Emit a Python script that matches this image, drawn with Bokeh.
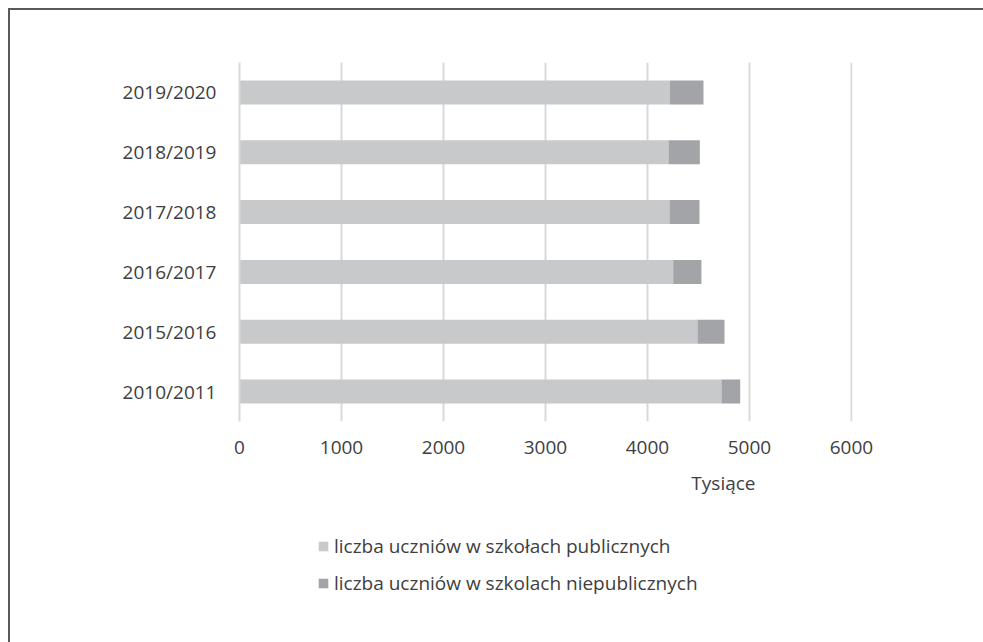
from bokeh.plotting import figure
from bokeh.layouts import column
from bokeh.models import (FactorRange, Range1d, FixedTicker, Legend, LegendItem,
                          Title, ColumnDataSource)
from bokeh.embed import file_html
from bokeh.resources import INLINE

# ---- data (thousands of pupils) ----
years = ["2010/2011", "2015/2016", "2016/2017", "2017/2018", "2018/2019", "2019/2020"]
public = [4725, 4490, 4252, 4216, 4206, 4219]
nonpublic = [184, 265, 277, 294, 307, 330]
x_ticks = [0, 1000, 2000, 3000, 4000, 5000, 6000]
series_labels = ["liczba uczniów w szkołach publicznych",
                 "liczba uczniów w szkolach niepublicznych"]
axis_title = "Tysiące"

FONT = "Open Sans"
TXT = "#404040"
C_PUB = "#c8c9cb"
C_NON = "#a3a4a8"
GRID = "#d9d9d9"

src = ColumnDataSource(dict(year=years, pub=public, non=nonpublic))

# ---- main chart ----
p = figure(width=973, height=500, y_range=FactorRange(*years, range_padding=0),
           x_range=Range1d(0, 6010), output_backend="svg", toolbar_location=None,
           min_border_left=229, min_border_right=131, min_border_top=52,
           min_border_bottom=89)
p.outline_line_color = None
p.background_fill_color = "white"
p.border_fill_color = "white"

rs = p.hbar_stack(["pub", "non"], y="year", height=0.4, color=[C_PUB, C_NON],
                  source=src, line_color=None)

p.xaxis.ticker = FixedTicker(ticks=x_ticks)
p.xaxis.axis_line_color = None
p.xaxis.major_tick_line_color = None
p.xaxis.minor_tick_line_color = None
p.xaxis.major_label_standoff = 13
p.xaxis.major_label_text_font = FONT
p.xaxis.major_label_text_font_size = "19px"
p.xaxis.major_label_text_color = TXT

p.yaxis.axis_line_color = GRID
p.yaxis.axis_line_width = 2
p.yaxis.major_tick_line_color = None
p.yaxis.minor_tick_line_color = None
p.yaxis.major_label_standoff = 17
p.yaxis.major_label_text_font = FONT
p.yaxis.major_label_text_font_size = "19px"
p.yaxis.major_label_text_color = TXT

p.xgrid.grid_line_color = GRID
p.xgrid.grid_line_width = 2
p.ygrid.grid_line_color = None

# axis title, right-aligned toward the 5000 tick like the original
p.add_layout(Title(text=axis_title, align="right", offset=97, text_font=FONT,
                   text_font_size="19px", text_color=TXT, text_font_style="normal",
                   standoff=22), "below")

# ---- legend strip below the chart (stand-in renderers are hidden) ----
p2 = figure(width=973, height=132, y_range=FactorRange(*years),
            x_range=Range1d(0, 6010), output_backend="svg", toolbar_location=None,
            x_axis_location=None, y_axis_location=None,
            min_border_left=0, min_border_right=0, min_border_top=0,
            min_border_bottom=0)
p2.outline_line_color = None
p2.grid.visible = False
p2.background_fill_alpha = 0
p2.border_fill_color = "white"
rs2 = p2.hbar_stack(["pub", "non"], y="year", height=0.4, color=[C_PUB, C_NON],
                    source=src, line_color=None)
for r in rs2:
    r.visible = False

legend = Legend(items=[LegendItem(label=series_labels[0], renderers=[rs2[0]]),
                       LegendItem(label=series_labels[1], renderers=[rs2[1]])],
                location=(78, 46), orientation="vertical",
                glyph_width=12, glyph_height=12, label_text_font=FONT,
                label_text_font_size="19px", label_text_color=TXT,
                label_height=26, label_standoff=5, spacing=11, padding=0,
                margin=0, border_line_color=None, background_fill_alpha=0,
                inactive_fill_alpha=0)
p2.add_layout(legend)

layout = column(p, p2, spacing=0)
layout.styles = {"margin-left": "8px", "margin-top": "8px",
                 "border-left": "2px solid #5a5a5a",
                 "border-top": "2px solid #5a5a5a"}

open("out.html", "w").write(file_html(layout, INLINE))
